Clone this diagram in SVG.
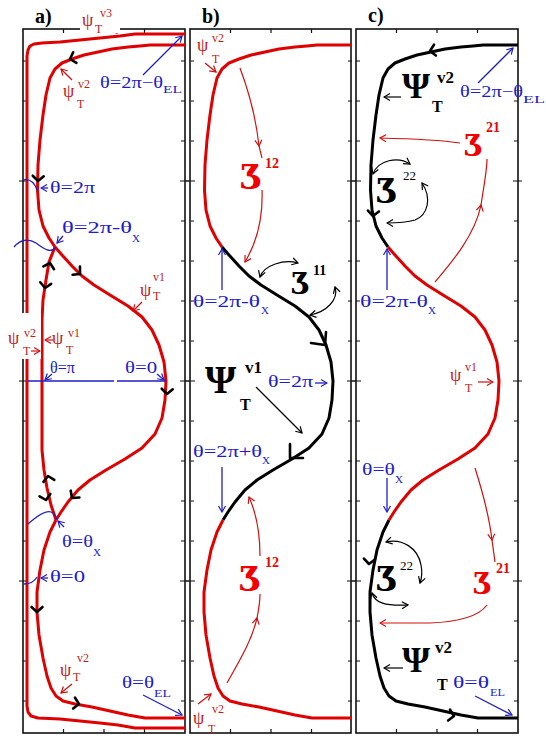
<svg xmlns="http://www.w3.org/2000/svg" width="546" height="738" viewBox="0 0 546 738">
<style>
text{font-family:"Liberation Serif","DejaVu Serif",serif}
.fr{fill:none;stroke:#111;stroke-width:1.6}
.tk{fill:none;stroke:#111;stroke-width:1.2}
.cr{fill:none;stroke:#e00000;stroke-width:3;stroke-linejoin:round}
.ck{fill:none;stroke:#000;stroke-width:3;stroke-linejoin:round}
.lb{fill:none;stroke:#2020c8;stroke-width:1.3}
.lr{fill:none;stroke:#d01010;stroke-width:1.2}
.lk{fill:none;stroke:#000;stroke-width:1.2}
.ch{fill:none;stroke:#000;stroke-width:2.6;stroke-linecap:round;stroke-linejoin:round}
.bt{fill:#1c1cd0;font-size:17px}
.bs{fill:#1c1cd0;font-size:11px}
.rt{fill:#c41a1a;font-size:18px}
.rs{fill:#c41a1a;font-size:12px}
.pn{font-size:20px;font-weight:bold;fill:#000}
.ezr{fill:#f00000;font-weight:bold;font-family:"DejaVu Serif",serif}
.ezk{fill:#000;font-weight:bold;font-family:"DejaVu Serif",serif}
.sr{fill:#f00000;font-weight:bold}
.kt{fill:#000;font-weight:bold}
</style>
<defs>
<marker id="ab" viewBox="-7 -5 8 10" refX="0" refY="0" markerWidth="8" markerHeight="10" markerUnits="userSpaceOnUse" orient="auto-start-reverse"><path d="M-6,-3.5 L0,0 L-6,3.5" fill="none" stroke="#2020c8" stroke-width="1.2"/></marker>
<marker id="ar" viewBox="-7 -5 8 10" refX="0" refY="0" markerWidth="8" markerHeight="10" markerUnits="userSpaceOnUse" orient="auto-start-reverse"><path d="M-6,-3.5 L0,0 L-6,3.5" fill="none" stroke="#d01010" stroke-width="1.2"/></marker>
<marker id="ak" viewBox="-7 -5 8 10" refX="0" refY="0" markerWidth="8" markerHeight="10" markerUnits="userSpaceOnUse" orient="auto-start-reverse"><path d="M-6,-3.5 L0,0 L-6,3.5" fill="none" stroke="#000" stroke-width="1.2"/></marker>
<path id="chev" d="M-5,-5.5 L0,0 L-5,5.5"/>
<path id="sT" d="M185,45 H150 L140,46 L128,47 L112,49 L98,52 L84,55 L72,59 L62,63 L55,69 L50,78 L46,95 L43,115 L40,140 L38,165 L37.5,190 L39,210 L43,226 L49,238 L55,247"/>
<path id="sM" d="M55,247 L62,255 L72,266 L82,276 L94,285 L110,295 L128,306 L142,317 L152,330 L159,345 L164,362 L166,381 L165,400 L162,418 L155,434 L142,448 L125,459 L106,470 L90,480 L78,490 L68,502 L61,512 L56,520"/>
<path id="sB" d="M56,520 L50,532 L44,550 L40,570 L37,592 L37,612 L39,635 L43,658 L47,676 L51,688 L56,696 L63,701 L75,704 L92,707 L110,711 L128,715 L145,718 H185"/>
<g id="ticks" class="tk">
<path d="M63.5,29v4M104,29v4M144.5,29v4M63.5,733v-4M104,733v-4M144.5,733v-4M23,61h4M23,101h4M23,141h4M23,221h4M23,261h4M23,301h4M23,341h4M23,421h4M23,461h4M23,501h4M23,541h4M23,621h4M23,661h4M23,701h4M185,61h-4M185,101h-4M185,141h-4M185,221h-4M185,261h-4M185,301h-4M185,341h-4M185,421h-4M185,461h-4M185,501h-4M185,541h-4M185,621h-4M185,661h-4M185,701h-4M19,181h9M19,381h9M19,581h9M180,181h9M180,381h9M180,581h9"/>
</g>
</defs>
<rect width="546" height="738" fill="#fff"/>

<g id="frames">
<rect class="fr" x="23" y="29" width="162" height="704"/>
<rect class="fr" x="190" y="29" width="161" height="704"/>
<rect class="fr" x="356" y="29" width="162" height="704"/>
<use href="#ticks"/>
<use href="#ticks" x="167"/>
<use href="#ticks" x="333"/>
</g>

<g id="connectors">
<path class="cr" d="M185,34 H135 L120,36 L100,38 L80,40 L60,42 L42,43 L34,44 L30,46 L28,50 L27,56 V706 L28,712 L31,716 L38,718 L60,719 L80,721 L100,723 L118,725 L135,728 H185"/>
<use href="#sT" class="cr"/>
<use href="#sM" class="cr"/>
<use href="#sB" class="cr"/>
<path class="cr" d="M55,247 L49,262 L46,280 L43,300 L42,320 V450 L44,470 L47,488 L51,505 L56,520"/>
<use href="#sT" class="cr" x="167"/>
<use href="#sM" class="ck" x="167"/>
<use href="#sB" class="cr" x="167"/>
<use href="#sT" class="ck" x="333"/>
<use href="#sM" class="cr" x="333"/>
<use href="#sB" class="ck" x="333"/>

<use href="#chev" class="ch" transform="translate(70,59) rotate(163)"/>
<use href="#chev" class="ch" transform="translate(38,181) rotate(93)"/>
<use href="#chev" class="ch" transform="translate(50,263) rotate(-75)"/>
<use href="#chev" class="ch" transform="translate(45,288) rotate(98)"/>
<use href="#chev" class="ch" transform="translate(80,274) rotate(42)"/>
<use href="#chev" class="ch" transform="translate(167,394) rotate(93)"/>
<use href="#chev" class="ch" transform="translate(48,476) rotate(-100)"/>
<use href="#chev" class="ch" transform="translate(46,500) rotate(78)"/>
<use href="#chev" class="ch" transform="translate(72,498) rotate(128)"/>
<use href="#chev" class="ch" transform="translate(37,612) rotate(90)"/>
<use href="#chev" class="ch" transform="translate(79,704) rotate(10)"/>
<use href="#chev" class="ch" transform="translate(430,51) rotate(170)"/>
<use href="#chev" class="ch" transform="translate(373,216) rotate(95)"/>
<use href="#chev" class="ch" transform="translate(369,564) rotate(95)"/>
<use href="#chev" class="ch" transform="translate(454,716) rotate(10)"/>
<path class="ch" d="M311,343 L325,345 L326,332"/>
<path class="ch" d="M290,444 L290,458 L303,458"/>

<path class="lb" d="M28,381 H114 M117,381 H166"/>
<path class="lb" d="M14,247 C20,240 28,238 36,243 C44,249 51,254 56,247"/>
<path class="lb" d="M28,524 C36,517 45,510 51,512 C54,513 56,516 57,520"/>
<path class="lb" d="M23,180 Q33,178 37,190"/>
<path class="lb" d="M24,584 Q33,584 37,577"/>
<path class="lb" marker-end="url(#ab)" d="M143,75 L182,36"/>
<path class="lb" marker-end="url(#ab)" d="M143,695 L182,715"/>
<path class="lb" marker-end="url(#ab)" d="M48,188 L41,188"/>
<path class="lb" marker-end="url(#ab)" d="M63,236 L57,243"/>
<path class="lb" marker-end="url(#ab)" d="M52,374 L45,380"/>
<path class="lb" marker-end="url(#ab)" d="M157,374 L164,380"/>
<path class="lb" marker-end="url(#ab)" d="M64,527 L58,521"/>
<path class="lb" marker-end="url(#ab)" d="M48,578 L41,578"/>
<path class="lr" marker-end="url(#ar)" d="M110,27 L117,33"/>
<path class="lr" marker-end="url(#ar)" d="M72,80 L61,69"/>
<path class="lr" marker-end="url(#ar)" d="M142,302 L133,311"/>
<path class="lr" marker-end="url(#ar)" d="M53,340 L45,340"/>
<path class="lr" marker-end="url(#ar)" d="M72,684 L61,693"/>

<path class="lr" marker-end="url(#ar)" d="M205,63 L216,72"/>
<path class="lr" marker-end="url(#ar)" d="M198,704 L211,694"/>
<path class="lr" marker-end="url(#ar)" d="M240,68 C249,92 256,118 259,146"/>
<path class="lr" d="M259,146 L262,158"/>
<path class="lr" marker-end="url(#ar)" d="M262,190 C263,215 258,240 245,262"/>
<path class="lr" marker-end="url(#ar)" d="M227,683 C240,660 252,640 257,618"/>
<path class="lr" d="M257,618 C259,608 260,598 260,594"/>
<path class="lr" marker-end="url(#ar)" d="M260,556 C260,535 257,515 249,497"/>
<path class="lk" marker-start="url(#ak)" marker-end="url(#ak)" d="M260,277 C264,265 284,259 298,263"/>
<path class="lk" marker-start="url(#ak)" marker-end="url(#ak)" d="M335,287 C339,300 326,312 310,315"/>
<path class="lk" marker-end="url(#ak)" d="M256,387 L302,433"/>
<path class="lb" marker-end="url(#ab)" d="M222,290 V249"/>
<path class="lb" marker-end="url(#ab)" d="M222,467 V512"/>
<path class="lb" marker-end="url(#ab)" d="M315,383 L327,383"/>

<path class="lk" marker-end="url(#ak)" d="M401,97 L384,97"/>
<path class="lk" marker-end="url(#ak)" d="M403,668 L384,668"/>
<path class="lb" marker-end="url(#ab)" d="M478,83 L513,48"/>
<path class="lb" marker-end="url(#ab)" d="M475,696 L512,715"/>
<path class="lb" marker-end="url(#ab)" d="M387,290 V249"/>
<path class="lb" marker-end="url(#ab)" d="M387,478 V512"/>
<path class="lr" marker-end="url(#ar)" d="M478,382 L493,382"/>
<path class="lr" marker-end="url(#ar)" d="M460,143 C440,140 420,139 380,138"/>
<path class="lr" marker-end="url(#ar)" d="M435,282 C452,262 475,235 481,205"/>
<path class="lr" d="M481,205 C484,185 487,170 487,159"/>
<path class="lr" marker-end="url(#ar)" d="M475,468 C482,490 489,515 492,540"/>
<path class="lr" d="M492,540 L495,562"/>
<path class="lr" marker-end="url(#ar)" d="M487,605 C478,617 458,622 430,623 L380,623"/>
<path class="lk" marker-start="url(#ak)" marker-end="url(#ak)" d="M373,174 C378,160 398,156 410,164"/>
<path class="lk" marker-start="url(#ak)" marker-end="url(#ak)" d="M422,183 C432,198 428,215 415,220 C405,223 395,223 387,223"/>
<path class="lk" marker-start="url(#ak)" marker-end="url(#ak)" d="M386,542 C402,538 418,548 421,565 C423,575 421,580 420,583"/>
<path class="lk" marker-start="url(#ak)" marker-end="url(#ak)" d="M372,593 C375,603 385,606 408,605"/>
</g>

<g id="labels-a">
<text class="pn" x="35" y="23">a)</text>
<rect x="80" y="6" width="40" height="27" fill="#fff"/>
<text class="rt" x="82" y="26">ψ</text><text class="rs" x="100" y="17">v3</text><text class="rs" x="95" y="33">T</text>
<text class="rt" x="63" y="97">ψ</text><text class="rs" x="78" y="88">v2</text><text class="rs" x="77" y="108">T</text>
<text class="bt" x="100" y="88" textLength="63" lengthAdjust="spacingAndGlyphs">θ=2π−θ</text><text class="bs" x="163" y="93" textLength="19" lengthAdjust="spacingAndGlyphs">EL</text>
<text class="bt" x="50" y="193" textLength="45" lengthAdjust="spacingAndGlyphs">θ=2π</text>
<text class="bt" x="62" y="233" textLength="70" lengthAdjust="spacingAndGlyphs">θ=2π-θ</text><text class="bs" x="132" y="242">X</text>
<text class="rt" x="140" y="296">ψ</text><text class="rs" x="153" y="281">v1</text><text class="rs" x="153" y="300">T</text>
<rect x="4" y="313" width="37" height="46" fill="#fff"/>
<text class="rt" x="8" y="344">ψ</text><text class="rs" x="24" y="337">v2</text><text class="rs" x="23" y="355">T</text>
<path class="lr" marker-end="url(#ar)" d="M31,351 L40,351"/>
<text class="rt" x="52" y="344">ψ</text><text class="rs" x="68" y="337">v1</text><text class="rs" x="66" y="354" font-size="11">T</text>
<text class="bt" x="50" y="373" textLength="25" lengthAdjust="spacingAndGlyphs">θ=π</text>
<text class="bt" x="125" y="373" textLength="32" lengthAdjust="spacingAndGlyphs">θ=0</text>
<text class="bt" x="62" y="547" textLength="31" lengthAdjust="spacingAndGlyphs">θ=θ</text><text class="bs" x="93" y="556">X</text>
<text class="bt" x="50" y="582" textLength="35" lengthAdjust="spacingAndGlyphs">θ=0</text>
<text class="rt" x="60" y="676">ψ</text><text class="rs" x="77" y="662">v2</text><text class="rs" x="73" y="681">T</text>
<text class="bt" x="122" y="688" textLength="32" lengthAdjust="spacingAndGlyphs">θ=θ</text><text class="bs" x="154" y="697" textLength="17" lengthAdjust="spacingAndGlyphs">EL</text>
</g>

<g id="labels-b">
<text class="pn" x="202" y="23">b)</text>
<text class="rt" x="197" y="51">ψ</text><text class="rs" x="212" y="42">v2</text><text class="rs" x="212" y="63">T</text>
<text class="ezr" x="240" y="189" font-size="34">Ʒ</text><text class="sr" x="265" y="168" font-size="14">12</text>
<text class="ezk" x="291" y="294" font-size="29">Ʒ</text><text class="kt" x="313" y="275" font-size="14">11</text>
<text class="bt" x="193" y="307" textLength="67" lengthAdjust="spacingAndGlyphs">θ=2π-θ</text><text class="bs" x="261" y="314">X</text>
<text class="kt" x="205" y="393" font-size="40">Ψ</text><text class="kt" x="245" y="373" font-size="17">v1</text><text class="kt" x="240" y="410" font-size="16">T</text>
<text class="bt" x="268" y="387" textLength="45" lengthAdjust="spacingAndGlyphs">θ=2π</text>
<text class="bt" x="193" y="457" textLength="69" lengthAdjust="spacingAndGlyphs">θ=2π+θ</text><text class="bs" x="262" y="464">X</text>
<text class="ezr" x="239" y="591" font-size="34">Ʒ</text><text class="sr" x="265" y="567" font-size="14">12</text>
<text class="rs" x="212" y="713">v2</text><text class="rt" x="193" y="724">ψ</text><text class="rs" x="208" y="733">T</text>
</g>

<g id="labels-c">
<text class="pn" x="368" y="22">c)</text>
<text class="kt" x="402" y="98" font-size="36">Ψ</text><text class="kt" x="437" y="83" font-size="17">v2</text><text class="kt" x="432" y="112" font-size="16">T</text>
<text class="bt" x="460" y="97" textLength="63" lengthAdjust="spacingAndGlyphs">θ=2π−θ</text><text class="bs" x="523" y="103" textLength="22" lengthAdjust="spacingAndGlyphs">EL</text>
<text class="ezr" x="464" y="156" font-size="29">Ʒ</text><text class="sr" x="486" y="132" font-size="14">21</text>
<text class="ezk" x="376" y="203" font-size="33">Ʒ</text><text x="403" y="180" font-size="13" fill="#000">22</text>
<text class="bt" x="360" y="307" textLength="68" lengthAdjust="spacingAndGlyphs">θ=2π-θ</text><text class="bs" x="428" y="314">X</text>
<text class="rt" x="450" y="381">ψ</text><text class="rs" x="465" y="371">v1</text><text class="rs" x="465" y="392">T</text>
<text class="bt" x="362" y="475" textLength="33" lengthAdjust="spacingAndGlyphs">θ=θ</text><text class="bs" x="395" y="483">X</text>
<text class="ezk" x="376" y="591" font-size="33">Ʒ</text><text x="400" y="570" font-size="13" fill="#000">22</text>
<text class="ezr" x="473" y="594" font-size="29">Ʒ</text><text class="sr" x="496" y="573" font-size="14">21</text>
<text class="kt" x="402" y="672" font-size="36">Ψ</text><text class="kt" x="435" y="653" font-size="17">v2</text><text class="kt" x="437" y="690" font-size="16">T</text>
<text class="bt" x="453" y="688" textLength="36" lengthAdjust="spacingAndGlyphs">θ=θ</text><text class="bs" x="490" y="696" textLength="15" lengthAdjust="spacingAndGlyphs">EL</text>
</g>
</svg>
